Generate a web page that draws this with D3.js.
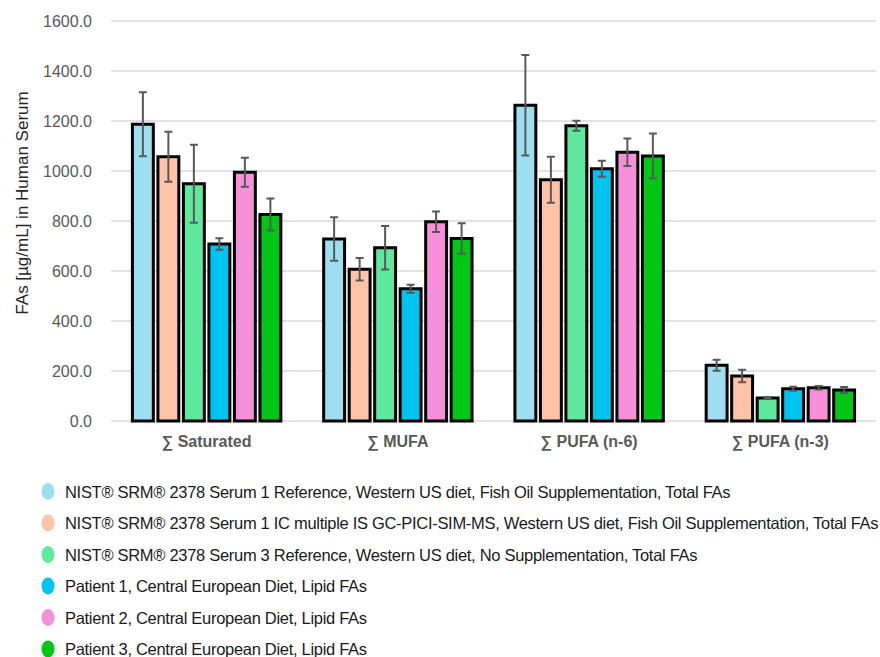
<!DOCTYPE html>
<html>
<head>
<meta charset="utf-8">
<script src="https://cdn.jsdelivr.net/npm/d3@7"></script>
<style>
  body { margin: 0; background: #fff; }
  text { font-family: "Liberation Sans", Arial, sans-serif; }
</style>
</head>
<body>
<div id="chart"></div>
<script>
// categories, series and values
const categories = ["∑ Saturated", "∑ MUFA", "∑ PUFA (n-6)", "∑ PUFA (n-3)"];
const seriesNames = [
    "NIST® SRM® 2378 Serum 1 Reference, Western US diet, Fish Oil Supplementation, Total FAs",
    "NIST® SRM® 2378 Serum 1 IC multiple IS GC-PICI-SIM-MS, Western US diet, Fish Oil Supplementation, Total FAs",
    "NIST® SRM® 2378 Serum 3 Reference, Western US diet, No Supplementation, Total FAs",
    "Patient 1, Central European Diet, Lipid FAs",
    "Patient 2, Central European Diet, Lipid FAs",
    "Patient 3, Central European Diet, Lipid FAs"
];
const seriesColors = ["#9ddff0", "#ffc3a7", "#60e89e", "#00c4f0", "#f690d8", "#00c616"];

// values[series][category]
const values = [
    [1187, 728, 1263, 223],
    [1057, 607, 965, 180],
    [949, 693, 1181, 92],
    [708, 529, 1009, 129],
    [995, 797, 1075, 133],
    [826, 730, 1060, 124]
];
const errors = [
    [128, 87, 201, 22],
    [100, 45, 92, 25],
    [156, 87, 20, 4],
    [23, 16, 32, 8],
    [58, 41, 55, 7],
    [64, 61, 90, 12]
];
const yTicks = [0, 200, 400, 600, 800, 1000, 1200, 1400, 1600];

const width = 880;
const height = 657;
const margin = {top: 21, left: 111, right: 4, bottom: 236};

const svg = d3.select("#chart")
    .append("svg")
    .attr("width", width)
    .attr("height", height);

const x0 = d3.scaleBand()
    .domain(categories)
    .range([margin.left, width - margin.right])
    .paddingInner(0.2)
    .paddingOuter(0.1);

const x1 = d3.scaleBand()
    .domain(d3.range(seriesNames.length))
    .range([0, x0.bandwidth()])
    .paddingInner(0.18)
    .paddingOuter(0.09);

const y = d3.scaleLinear()
    .domain([0, 1600])
    .range([height - margin.bottom, margin.top]);

// gridlines
svg.append("g")
    .selectAll("line")
    .data(yTicks)
    .enter()
    .append("line")
        .attr("x1", margin.left)
        .attr("x2", width - margin.right)
        .attr("y1", d => y(d))
        .attr("y2", d => y(d))
        .attr("stroke", "#d9d9d9")
        .attr("stroke-width", 1.5);

// y axis
const yAxis = svg.append("g")
    .attr("transform", `translate(${margin.left - 16},0)`)
    .call(d3.axisLeft(y).tickValues(yTicks).tickFormat(d3.format(".1f")).tickSize(0));
yAxis.select(".domain").remove();
yAxis.selectAll("text")
    .attr("font-size", 16)
    .attr("fill", "#595959")
    .attr("font-family", "'Liberation Sans', Arial, sans-serif");

// x axis labels
const xAxis = svg.append("g")
    .attr("transform", `translate(0,${height - margin.bottom})`)
    .call(d3.axisBottom(x0).tickSize(0).tickPadding(15));
xAxis.select(".domain").remove();
xAxis.selectAll("text")
    .attr("font-size", 16)
    .attr("font-weight", "bold")
    .attr("fill", "#595959")
    .attr("font-family", "'Liberation Sans', Arial, sans-serif");

// bars
const rows = [];
values.forEach((vals, s) => {
    vals.forEach((v, c) => {
        rows.push({s: s, cat: categories[c], v: v, e: errors[s][c]});
    });
});

svg.append("g")
    .selectAll("rect")
    .data(rows)
    .enter()
    .append("rect")
        .attr("x", d => x0(d.cat) + x1(d.s))
        .attr("y", d => y(d.v))
        .attr("width", x1.bandwidth())
        .attr("height", d => y(0) - y(d.v))
        .attr("fill", d => seriesColors[d.s])
        .attr("stroke", "#000")
        .attr("stroke-width", 3);

// error bars
const err = svg.append("g")
    .attr("stroke", "#595959")
    .attr("stroke-width", 2)
    .selectAll("g")
    .data(rows)
    .enter()
    .append("g")
        .attr("transform", d => `translate(${x0(d.cat) + x1(d.s) + x1.bandwidth() / 2},0)`);

err.append("line")
    .attr("y1", d => y(d.v + d.e))
    .attr("y2", d => y(d.v - d.e));
err.append("line")
    .attr("x1", -4).attr("x2", 4)
    .attr("y1", d => y(d.v + d.e))
    .attr("y2", d => y(d.v + d.e));
err.append("line")
    .attr("x1", -4).attr("x2", 4)
    .attr("y1", d => y(d.v - d.e))
    .attr("y2", d => y(d.v - d.e));

// y axis title
svg.append("text")
    .attr("transform", "rotate(-90)")
    .attr("x", -203)
    .attr("y", 28)
    .attr("text-anchor", "middle")
    .attr("font-size", 17)
    .attr("fill", "#262626")
    .text("FAs [µg/mL] in Human Serum");

// legend
const legend = svg.append("g")
    .selectAll("g")
    .data(seriesNames)
    .enter()
    .append("g")
        .attr("transform", (d, i) => `translate(48,${491.5 + i * 31.5})`);

legend.append("ellipse")
    .attr("rx", 6.5)
    .attr("ry", 8.5)
    .attr("fill", (d, i) => seriesColors[i]);

legend.append("text")
    .attr("x", 17)
    .attr("y", 6)
    .attr("font-size", 16.5)
    .attr("letter-spacing", -0.3)
    .attr("fill", "#1a1a1a")
    .text(d => d);
</script>
</body>
</html>
